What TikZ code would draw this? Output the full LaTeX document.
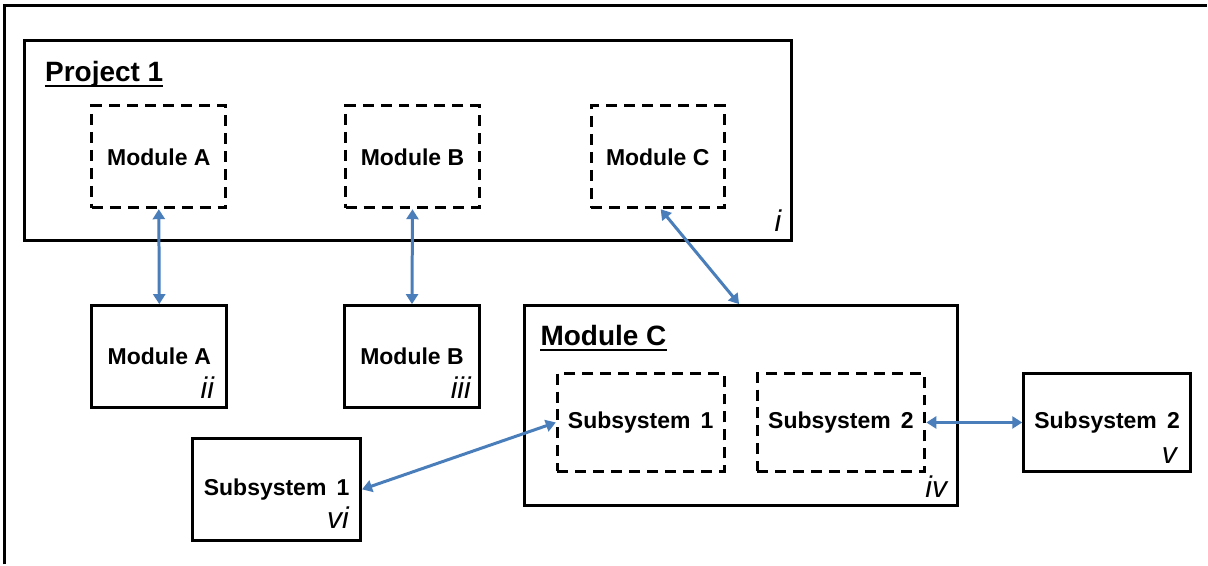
\documentclass[tikz,border=0pt]{standalone}
\usepackage{fontspec}
\setmainfont{Liberation Sans}
\usetikzlibrary{arrows.meta}
\definecolor{arrblue}{HTML}{4A7EBB}
\begin{document}
\begin{tikzpicture}[x=1pt,y=-1pt,
  box/.style={draw=black, line width=3pt, inner sep=0pt, align=center,
    font=\bfseries\fontsize{23}{26}\selectfont},
  dbox/.style={box, dash pattern=on 11pt off 7pt},
  head/.style={inner sep=0pt, anchor=base west, font=\bfseries\fontsize{28}{32}\selectfont},
  lab/.style={inner sep=0pt, anchor=base east, font=\itshape\fontsize{30}{32}\selectfont},
  conn/.style={draw=arrblue, line width=3pt,
    {Triangle[length=10pt,width=12pt]}-{Triangle[length=10pt,width=12pt]}},
  ul/.style={line width=2pt}
]
\fill[white] (0,0) rectangle (1208,565);
\draw[line width=3pt] (5,565) -- (5,6) -- (1208,6);

% Project 1
\node[box, minimum width=767pt, minimum height=200pt] (proj) at (408.5,141) {};
\node[head] (hp) at (45,82) {Project 1};
\draw[ul] ([yshift=-4.5pt]hp.base west) -- ([yshift=-4.5pt]hp.base east);
\node[dbox, minimum width=134pt, minimum height=102pt] (mAi) at (159,157) {Module A};
\node[dbox, minimum width=134pt, minimum height=102pt] (mBi) at (413,157) {Module B};
\node[dbox, minimum width=133pt, minimum height=102pt] (mCi) at (658.5,157) {Module C};
\node[lab] (li) at ([xshift=-11pt,yshift=11pt]proj.south east) {i};

% Module A, B
\node[box, minimum width=135pt, minimum height=102pt] (mA) at (159.5,357) {Module A};
\node[lab] (lii) at ([xshift=-14pt,yshift=11pt]mA.south east) {ii};
\node[box, minimum width=135pt, minimum height=102pt] (mB) at (412.5,357) {Module B};
\node[lab] (liii) at ([xshift=-10pt,yshift=11pt]mB.south east) {iii};

% Module C
\node[box, minimum width=434pt, minimum height=200pt] (mC) at (742,406) {};
\node[head] (hc) at (541,346) {Module C};
\draw[ul] ([yshift=-4pt]hc.base west) -- ([yshift=-4pt]hc.base east);
\node[dbox, minimum width=167pt, minimum height=98pt] (s1i) at (641.5,423) {Subsystem\, 1};
\node[dbox, minimum width=168pt, minimum height=98pt] (s2i) at (842,423) {Subsystem\, 2};
\node[lab] (liv) at ([xshift=-12pt,yshift=9pt]mC.south east) {iv};

% Subsystems
\node[box, minimum width=167pt, minimum height=98pt] (s2) at (1108.5,423) {Subsystem\, 2};
\node[lab] (lv) at ([xshift=-15pt,yshift=9pt]s2.south east) {v};
\node[box, minimum width=168pt, minimum height=102pt] (s1) at (277,490) {Subsystem\, 1};
\node[lab] (lvi) at ([xshift=-13pt,yshift=13pt]s1.south east) {vi};

% connectors
\draw[conn] (mAi.south) -- (mA.north);
\draw[conn] (mBi.south) -- (mB.north);
\draw[conn] ([xshift=3pt]mCi.south) -- ([xshift=-2pt]mC.north);
\draw[conn] (s1i.west) -- (s1.east);
\draw[conn] (s2i.east) -- (s2.west);
\end{tikzpicture}
\end{document}
